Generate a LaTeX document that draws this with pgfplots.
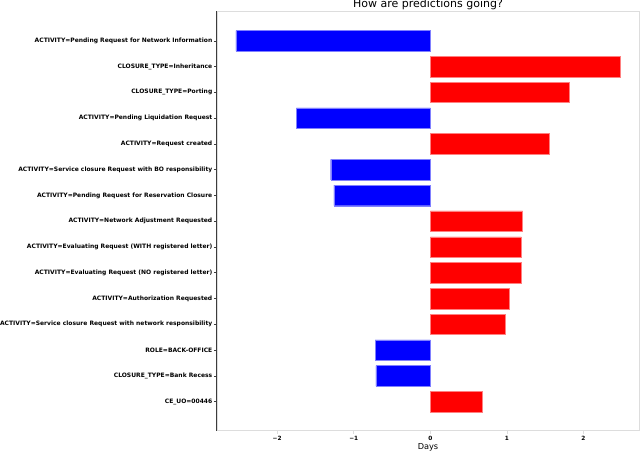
\documentclass[border=0pt]{standalone}
\usepackage{fontspec}
\setmainfont{DejaVu Sans}
\usepackage{pgfplots}
\pgfplotsset{compat=1.18}
\usetikzlibrary{calc}
\definecolor{negblue}{RGB}{0,0,255}
\definecolor{posred}{RGB}{255,0,0}
\definecolor{spinegray}{RGB}{221,221,221}
\definecolor{leftspine}{RGB}{60,60,60}

\begin{document}
\begin{tikzpicture}
\begin{axis}[
    name=main,
    scale only axis,
    width=422pt,
    height=419.7pt,
    xbar,
    y dir=reverse,
    xmin=-2.785, xmax=2.725,
    ymin=-1.16, ymax=15.13,
    xtick={-2,-1,0,1,2},
    xticklabels={−2,−1,0,1,2},
    xtick pos=bottom,
    ytick pos=left,
    ytick={0,...,14},
    yticklabels={
      ACTIVITY=Pending Request for Network Information,
      CLOSURE\_TYPE=Inheritance,
      CLOSURE\_TYPE=Porting,
      ACTIVITY=Pending Liquidation Request,
      ACTIVITY=Request created,
      ACTIVITY=Service closure Request with BO responsibility,
      ACTIVITY=Pending Request for Reservation Closure,
      ACTIVITY=Network Adjustment Requested,
      ACTIVITY=Evaluating Request (WITH registered letter),
      ACTIVITY=Evaluating Request (NO registered letter),
      ACTIVITY=Authorization Requested,
      ACTIVITY=Service closure Request with network responsibility,
      ROLE=BACK-OFFICE,
      CLOSURE\_TYPE=Bank Recess,
      CE\_UO=00446},
    yticklabel style={font=\fontsize{6.0}{7}\selectfont\bfseries, inner sep=1.5pt},
    xticklabel style={font=\fontsize{5.8}{7}\selectfont\bfseries, inner sep=2pt},
    tick align=outside,
    major tick length=3pt,
    x tick style={spinegray, line width=0.6pt},
    y tick style={leftspine, line width=0.6pt},
    axis line style={spinegray, line width=0.8pt},
    title={How are predictions going?},
    title style={font=\fontsize{11}{13}\selectfont, inner sep=0pt, yshift=-5pt},
    xlabel={Days},
    xlabel style={font=\fontsize{8.2}{10}\selectfont, inner sep=0pt, yshift=-1pt},
    bar width=20.5pt,
    bar shift=0pt,
    clip=false,
]
\addplot[fill=negblue, draw=negblue!50!white, line width=0.4pt] coordinates {
  (-2.54,0) (-1.75,3) (-1.30,5) (-1.26,6) (-0.72,12) (-0.71,13)
};
\addplot[fill=posred, draw=posred!50!white, line width=0.4pt] coordinates {
  (2.485,1) (1.814,2) (1.55,4) (1.205,7) (1.19,8) (1.19,9)
  (1.03,10) (0.975,11) (0.682,14)
};
\draw[leftspine, line width=1pt] (rel axis cs:0,0) -- (rel axis cs:0,1);
\end{axis}
\pgfresetboundingbox
\path[use as bounding box] ($(main.south west)+(-217pt,-19.3pt)$) rectangle ($(main.north east)+(1pt,11pt)$);
\end{tikzpicture}
\end{document}
